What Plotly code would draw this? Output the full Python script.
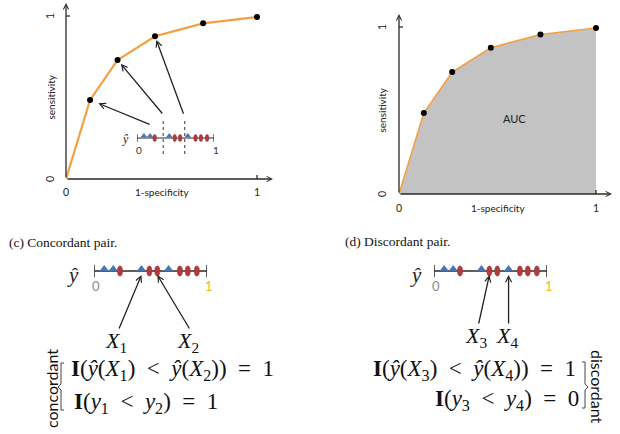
import plotly.graph_objects as go

W, H = 620, 434

# ---------------- data ----------------
fpr = [0.0, 0.126, 0.27, 0.466, 0.718, 1.0]          # 1-specificity
tpr = [0.0, 0.485, 0.73, 0.876, 0.955, 0.994]        # sensitivity

neg_scores = [0.09, 0.17, 0.42, 0.66]                # blue triangles (y = 0)
pos_scores = [0.23, 0.49, 0.56, 0.76, 0.83, 0.91]    # red ovals (y = 1)
thresholds = [0.34, 0.62]                            # dashed cut-offs
score_ticks = [0, 1]

roc_tick_labels = ["0", "1"]

SANS = "Lato"
SERIF = "Liberation Serif"
ORANGE = "#f4a041"
BLUE = "#4a76ad"
RED = "#b23b3b"
AXC = "#2a2a2a"
GRAY_FILL = "#c3c3c3"


def fx(p):
    return p / W


def fy(p):
    return 1 - p / H


fig = go.Figure()
layout = dict(
    width=W, height=H, margin=dict(l=0, r=0, t=0, b=0),
    paper_bgcolor="white", plot_bgcolor="rgba(0,0,0,0)",
    showlegend=False, font=dict(family=SANS, color="#222", size=11),
)


def add_axes(n, xpx, ypx, xr, yr):
    sx = "" if n == 1 else str(n)
    layout["xaxis" + sx] = dict(domain=[fx(xpx[0]), fx(xpx[1])], range=xr, visible=False,
                                fixedrange=True, anchor="y" + sx)
    layout["yaxis" + sx] = dict(domain=[fy(ypx[0]), fy(ypx[1])], range=yr, visible=False,
                                fixedrange=True, anchor="x" + sx)


# ROC left, ROC right, inset score line, bottom-left score line, bottom-right score line
add_axes(1, (66, 273), (179, 3), [0, 207 / 191], [0, 176 / 163])
add_axes(2, (399, 612), (194, 14), [0, 213 / 197], [0, 180 / 167])
add_axes(3, (137, 214), (158, 118), [0, 1], [-1, 1])
add_axes(4, (94, 207), (291, 251), [0, 1], [-1, 1])
add_axes(5, (434, 547), (291, 251), [0, 1], [-1, 1])

shapes = []
annotations = []

# ---------------- ROC curves ----------------
fig.add_trace(go.Scatter(x=fpr, y=tpr, mode="lines", line=dict(color=ORANGE, width=2.2),
                         xaxis="x", yaxis="y", hoverinfo="skip"))
fig.add_trace(go.Scatter(x=fpr[1:], y=tpr[1:], mode="markers", cliponaxis=False,
                         marker=dict(color="black", size=6), xaxis="x", yaxis="y"))
fig.add_trace(go.Scatter(x=fpr, y=tpr, mode="lines", fill="tozeroy", fillcolor=GRAY_FILL,
                         line=dict(color=ORANGE, width=1.6), xaxis="x2", yaxis="y2"))
fig.add_trace(go.Scatter(x=fpr[1:], y=tpr[1:], mode="markers", cliponaxis=False,
                         marker=dict(color="black", size=6), xaxis="x2", yaxis="y2"))


def roc_axes(sx, xmax, ymax, lab_dx, lab_dy):
    xr, yr = "x" + sx, "y" + sx
    # axis arrows
    annotations.append(dict(x=xmax, y=0, ax=0, ay=0, xref=xr, yref=yr, axref=xr, ayref=yr,
                            text="", showarrow=True, arrowhead=5, arrowsize=0.8,
                            arrowwidth=1.3, arrowcolor=AXC))
    annotations.append(dict(x=0, y=ymax, ax=0, ay=0, xref=xr, yref=yr, axref=xr, ayref=yr,
                            text="", showarrow=True, arrowhead=5, arrowsize=0.8,
                            arrowwidth=1.3, arrowcolor=AXC))
    # tick marks at 1
    shapes.append(dict(type="line", xref=xr, yref=yr, x0=1, x1=1, ysizemode="pixel", yanchor=0,
                       y0=-4, y1=4, line=dict(color=AXC, width=1.3)))
    shapes.append(dict(type="line", xref=xr, yref=yr, y0=1, y1=1, xsizemode="pixel", xanchor=0,
                       x0=-4, x1=4, line=dict(color=AXC, width=1.3)))
    for v, lab in zip(score_ticks, roc_tick_labels):
        annotations.append(dict(x=v, y=0, xref=xr, yref=yr, text=lab, showarrow=False,
                                xanchor="center", yanchor="middle",
                                yshift=-lab_dy, font=dict(size=10.5)))
        annotations.append(dict(x=0, y=v, xref=xr, yref=yr, text=lab, showarrow=False,
                                xanchor="center", yanchor="middle",
                                xshift=-lab_dx, textangle=-90, font=dict(size=10.5)))
    annotations.append(dict(x=0.505, y=0, xref=xr, yref=yr, text="1-specificity",
                            xanchor="center", yanchor="middle",
                            showarrow=False, yshift=-lab_dy, font=dict(size=10)))
    annotations.append(dict(x=0, y=0.5, xref=xr, yref=yr, text="sensitivity",
                            xanchor="center", yanchor="middle",
                            showarrow=False, xshift=-lab_dx, textangle=-90, font=dict(size=10)))


roc_axes("", 207 / 191, 176 / 163, 16, 13)
roc_axes("2", 213 / 197, 180 / 167, 17, 14)
annotations.append(dict(x=0.584, y=0.45, xref="x2", yref="y2", text="AUC", showarrow=False,
                        xanchor="center", yanchor="middle",
                        font=dict(size=11, color="#222")))


# ---------------- score lines ----------------
def score_line(sx, tri_size, ov_w, ov_h, tick_h, lw, yhat_dx, yhat_dy, yhat_size,
               lab_dy, lab_size, lab_colors):
    xr, yr = "x" + sx, "y" + sx
    shapes.append(dict(type="line", xref=xr, yref=yr, x0=0, x1=1, y0=0, y1=0, layer="below",
                       line=dict(color=AXC, width=lw)))
    for v in score_ticks:
        shapes.append(dict(type="line", xref=xr, yref=yr, x0=v, x1=v, ysizemode="pixel",
                           yanchor=0, y0=-tick_h, y1=tick_h, line=dict(color=AXC, width=lw)))
    fig.add_trace(go.Scatter(x=neg_scores, y=[0.1] * len(neg_scores), mode="markers",
                             cliponaxis=False, xaxis=xr, yaxis=yr,
                             marker=dict(symbol="triangle-up", size=tri_size, color=BLUE)))
    for v in pos_scores:
        shapes.append(dict(type="circle", xref=xr, yref=yr, xsizemode="pixel", ysizemode="pixel",
                           xanchor=v, yanchor=0, x0=-ov_w / 2, x1=ov_w / 2,
                           y0=-ov_h / 2, y1=ov_h / 2, fillcolor=RED,
                           line=dict(color="#9e3030", width=0.6)))
    annotations.append(dict(x=0, y=0, xref=xr, yref=yr, text="<i>ŷ</i>", showarrow=False,
                            xanchor="center", yanchor="middle",
                            xshift=-yhat_dx, yshift=-yhat_dy,
                            font=dict(family=SERIF, size=yhat_size, color="#222")))
    for v, col in zip(score_ticks, lab_colors):
        annotations.append(dict(x=v, y=0, xref=xr, yref=yr, text=str(v), showarrow=False,
                                xanchor="center", yanchor="middle",
                                xshift=2, yshift=-lab_dy, font=dict(size=lab_size, color=col)))


score_line("3", 6, 3.5, 7, 4, 1.2, 12, 1, 12, 12, 10, ["#333", "#333"])
score_line("4", 8, 5, 10, 6, 1.5, 21, 4, 21, 15, 13, ["#8a8a8a", "#f2b619"])
score_line("5", 8, 5, 10, 6, 1.5, 18, 4, 21, 15, 13, ["#8a8a8a", "#f2b619"])

# dashed thresholds in the inset
for t in thresholds:
    shapes.append(dict(type="line", xref="x3", yref="y3", x0=t, x1=t, ysizemode="pixel",
                       yanchor=0, y0=-16, y1=23, line=dict(color="#333", width=1, dash="dot")))

# arrows from the inset to ROC points
arrow_style = dict(text="", showarrow=True, arrowhead=5, arrowsize=0.9, arrowwidth=1.3,
                   arrowcolor="#222")
for (i, ax, ay, so) in [(1, 61, 25, 9), (2, 46, 55, 5), (3, 29, 79, 4)]:
    annotations.append(dict(x=fpr[i], y=tpr[i], xref="x", yref="y", ax=ax, ay=ay,
                            standoff=so, **arrow_style))

# arrows to the pairs
pairs = [
    ("x4", "y4", neg_scores[2], -23, 55, "<i>X</i><sub>1</sub>"),
    ("x4", "y4", pos_scores[2], 33, 55, "<i>X</i><sub>2</sub>"),
    ("x5", "y5", pos_scores[1], -11, 50, "<i>X</i><sub>3</sub>"),
    ("x5", "y5", neg_scores[3], 0, 50, "<i>X</i><sub>4</sub>"),
]
for xr, yr, v, ax, ay, lab in pairs:
    annotations.append(dict(x=v, y=-0.2, xref=xr, yref=yr, ax=ax, ay=ay, **arrow_style))
    annotations.append(dict(x=v, y=-0.2, xref=xr, yref=yr, text=lab, showarrow=False,
                            xanchor="center", yanchor="middle",
                            xshift=ax - 2, yshift=-(ay + 12),
                            font=dict(family=SERIF, size=22, color="#111")))

# ---------------- captions and equations ----------------
SP = "\u2002"
eqs = [
    ("(c) Concordant pair.", 7, 242, "left", 13.5),
    ("(d) Discordant pair.", 343, 241, "left", 13.5),
    ("<b>I</b>(<i>ŷ</i>(<i>X</i><sub>1</sub>)" + SP + "&lt;" + SP + "<i>ŷ</i>(<i>X</i><sub>2</sub>))"
     + SP + "=" + SP + "1", 172, 370, "center", 23),
    ("<b>I</b>(<i>y</i><sub>1</sub>" + SP + "&lt;" + SP + "<i>y</i><sub>2</sub>)" + SP + "=" + SP + "1",
     146, 403, "center", 23),
    ("<b>I</b>(<i>ŷ</i>(<i>X</i><sub>3</sub>)" + SP + "&lt;" + SP + "<i>ŷ</i>(<i>X</i><sub>4</sub>))"
     + SP + "=" + SP + "1", 474, 370, "center", 23),
    ("<b>I</b>(<i>y</i><sub>3</sub>" + SP + "&lt;" + SP + "<i>y</i><sub>4</sub>)" + SP + "=" + SP + "0",
     507, 400, "center", 23),
]
for txt, x, y, anc, sz in eqs:
    annotations.append(dict(x=fx(x), y=fy(y), xref="paper", yref="paper", text=txt,
                            showarrow=False, xanchor=anc, yanchor="middle",
                            font=dict(family=SERIF, size=sz, color="#111")))

annotations.append(dict(x=fx(51), y=fy(389), xref="paper", yref="paper", text="concordant",
                        xanchor="center", yanchor="middle",
                        showarrow=False, textangle=-90, font=dict(family=SANS, size=16, color="#111")))
annotations.append(dict(x=fx(598), y=fy(387), xref="paper", yref="paper", text="discordant",
                        xanchor="center", yanchor="middle",
                        showarrow=False, textangle=90, font=dict(family=SANS, size=16, color="#111")))


def path(points):
    return "M " + " L ".join(f"{fx(a):.5f},{fy(b):.5f}" for a, b in points)


shapes.append(dict(type="path", xref="paper", yref="paper",
                   path=path([(64, 363), (61, 363), (61, 384), (58, 387), (61, 390), (61, 410), (64, 410)]),
                   line=dict(color="#444", width=1)))
shapes.append(dict(type="path", xref="paper", yref="paper",
                   path=path([(582, 362), (585, 362), (585, 384), (588, 387), (585, 390), (585, 408), (582, 408)]),
                   line=dict(color="#444", width=1)))

layout["shapes"] = shapes
layout["annotations"] = annotations
fig.update_layout(**layout)
fig.write_html("out.html")
